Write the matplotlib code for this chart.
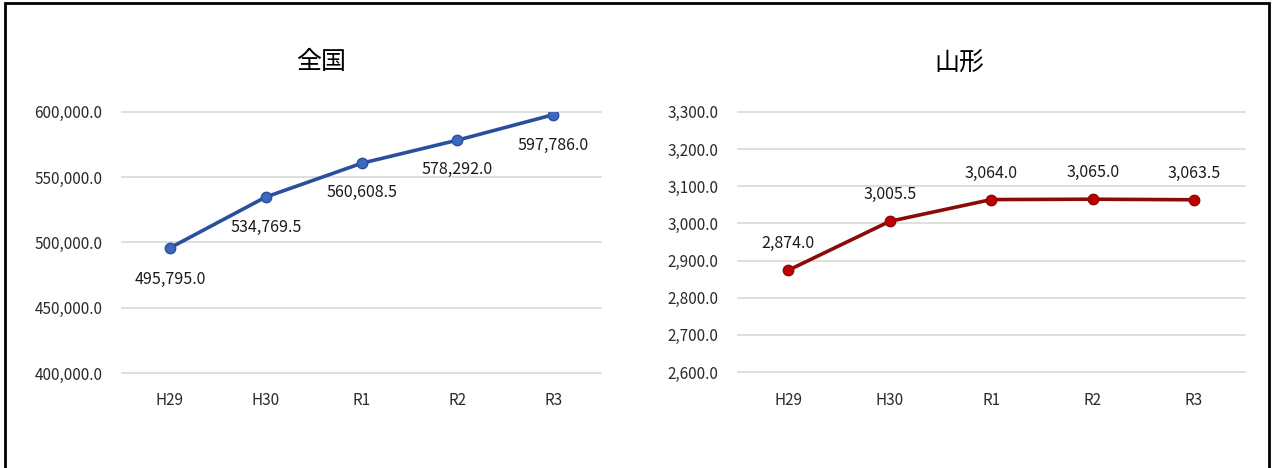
import matplotlib.pyplot as plt
from matplotlib.patches import Rectangle
from matplotlib.ticker import FuncFormatter

plt.rcParams['font.family'] = ['Noto Sans CJK JP', 'DejaVu Sans']

years = ['H29', 'H30', 'R1', 'R2', 'R3']
zenkoku = [495795.0, 534769.5, 560608.5, 578292.0, 597786.0]
yamagata = [2874.0, 3005.5, 3064.0, 3065.0, 3063.5]

fmt = FuncFormatter(lambda v, p: f'{v:,.1f}')


def draw(ax, vals, line_c, mark_c, ylim, step, label_dy):
    x = range(len(vals))
    ax.plot(x, vals, color=line_c, lw=2.6, marker='o', ms=7.5,
            mfc=mark_c, mec=line_c, mew=1, zorder=3)
    for i, v in enumerate(vals):
        ax.annotate(f'{v:,.1f}', (i, v), xytext=(0, label_dy[i]),
                    textcoords='offset points', ha='center', va='center',
                    fontsize=11.5, color='#1a1a1a')
    ax.set_xlim(-0.5, len(vals) - 0.5)
    ax.set_ylim(*ylim)
    ax.set_yticks([ylim[0] + step * k for k in range(int((ylim[1] - ylim[0]) / step) + 1)])
    ax.yaxis.set_major_formatter(fmt)
    ax.set_xticks(list(x))
    ax.set_xticklabels(years)
    ax.grid(axis='y', color='#d9d9d9', lw=1.2)
    for gl in ax.get_ygridlines():
        gl.set_clip_on(False)
    ax.set_axisbelow(True)
    for s in ax.spines.values():
        s.set_visible(False)
    ax.tick_params(length=0, labelsize=11, colors='#2a2a2a')
    ax.tick_params(axis='x', pad=14)
    ax.tick_params(axis='y', pad=14)


fig = plt.figure(figsize=(12.74, 4.68), dpi=100)
ax1 = fig.add_axes([0.0958, 0.203, 0.376, 0.558])
ax2 = fig.add_axes([0.579, 0.205, 0.398, 0.556])

draw(ax1, zenkoku, '#2a4f9c', '#3d68c0', (400000, 600000), 50000,
     [-23, -22, -21, -21, -22])
draw(ax2, yamagata, '#8b0a0a', '#c00000', (2600, 3300), 100,
     [19, 19, 19, 19, 19])

fig.text(321 / 1274, 1 - 62 / 468, '全国', fontsize=18, ha='center', va='center')
fig.text(959 / 1274, 1 - 64 / 468, '山形', fontsize=18, ha='center', va='center')

fig.patches.append(Rectangle((5 / 1274, -0.05), 1264 / 1274, 1.05 - 3 / 468,
                             transform=fig.transFigure, fill=False,
                             ec='black', lw=2))

fig.savefig('out.png', dpi=100)
